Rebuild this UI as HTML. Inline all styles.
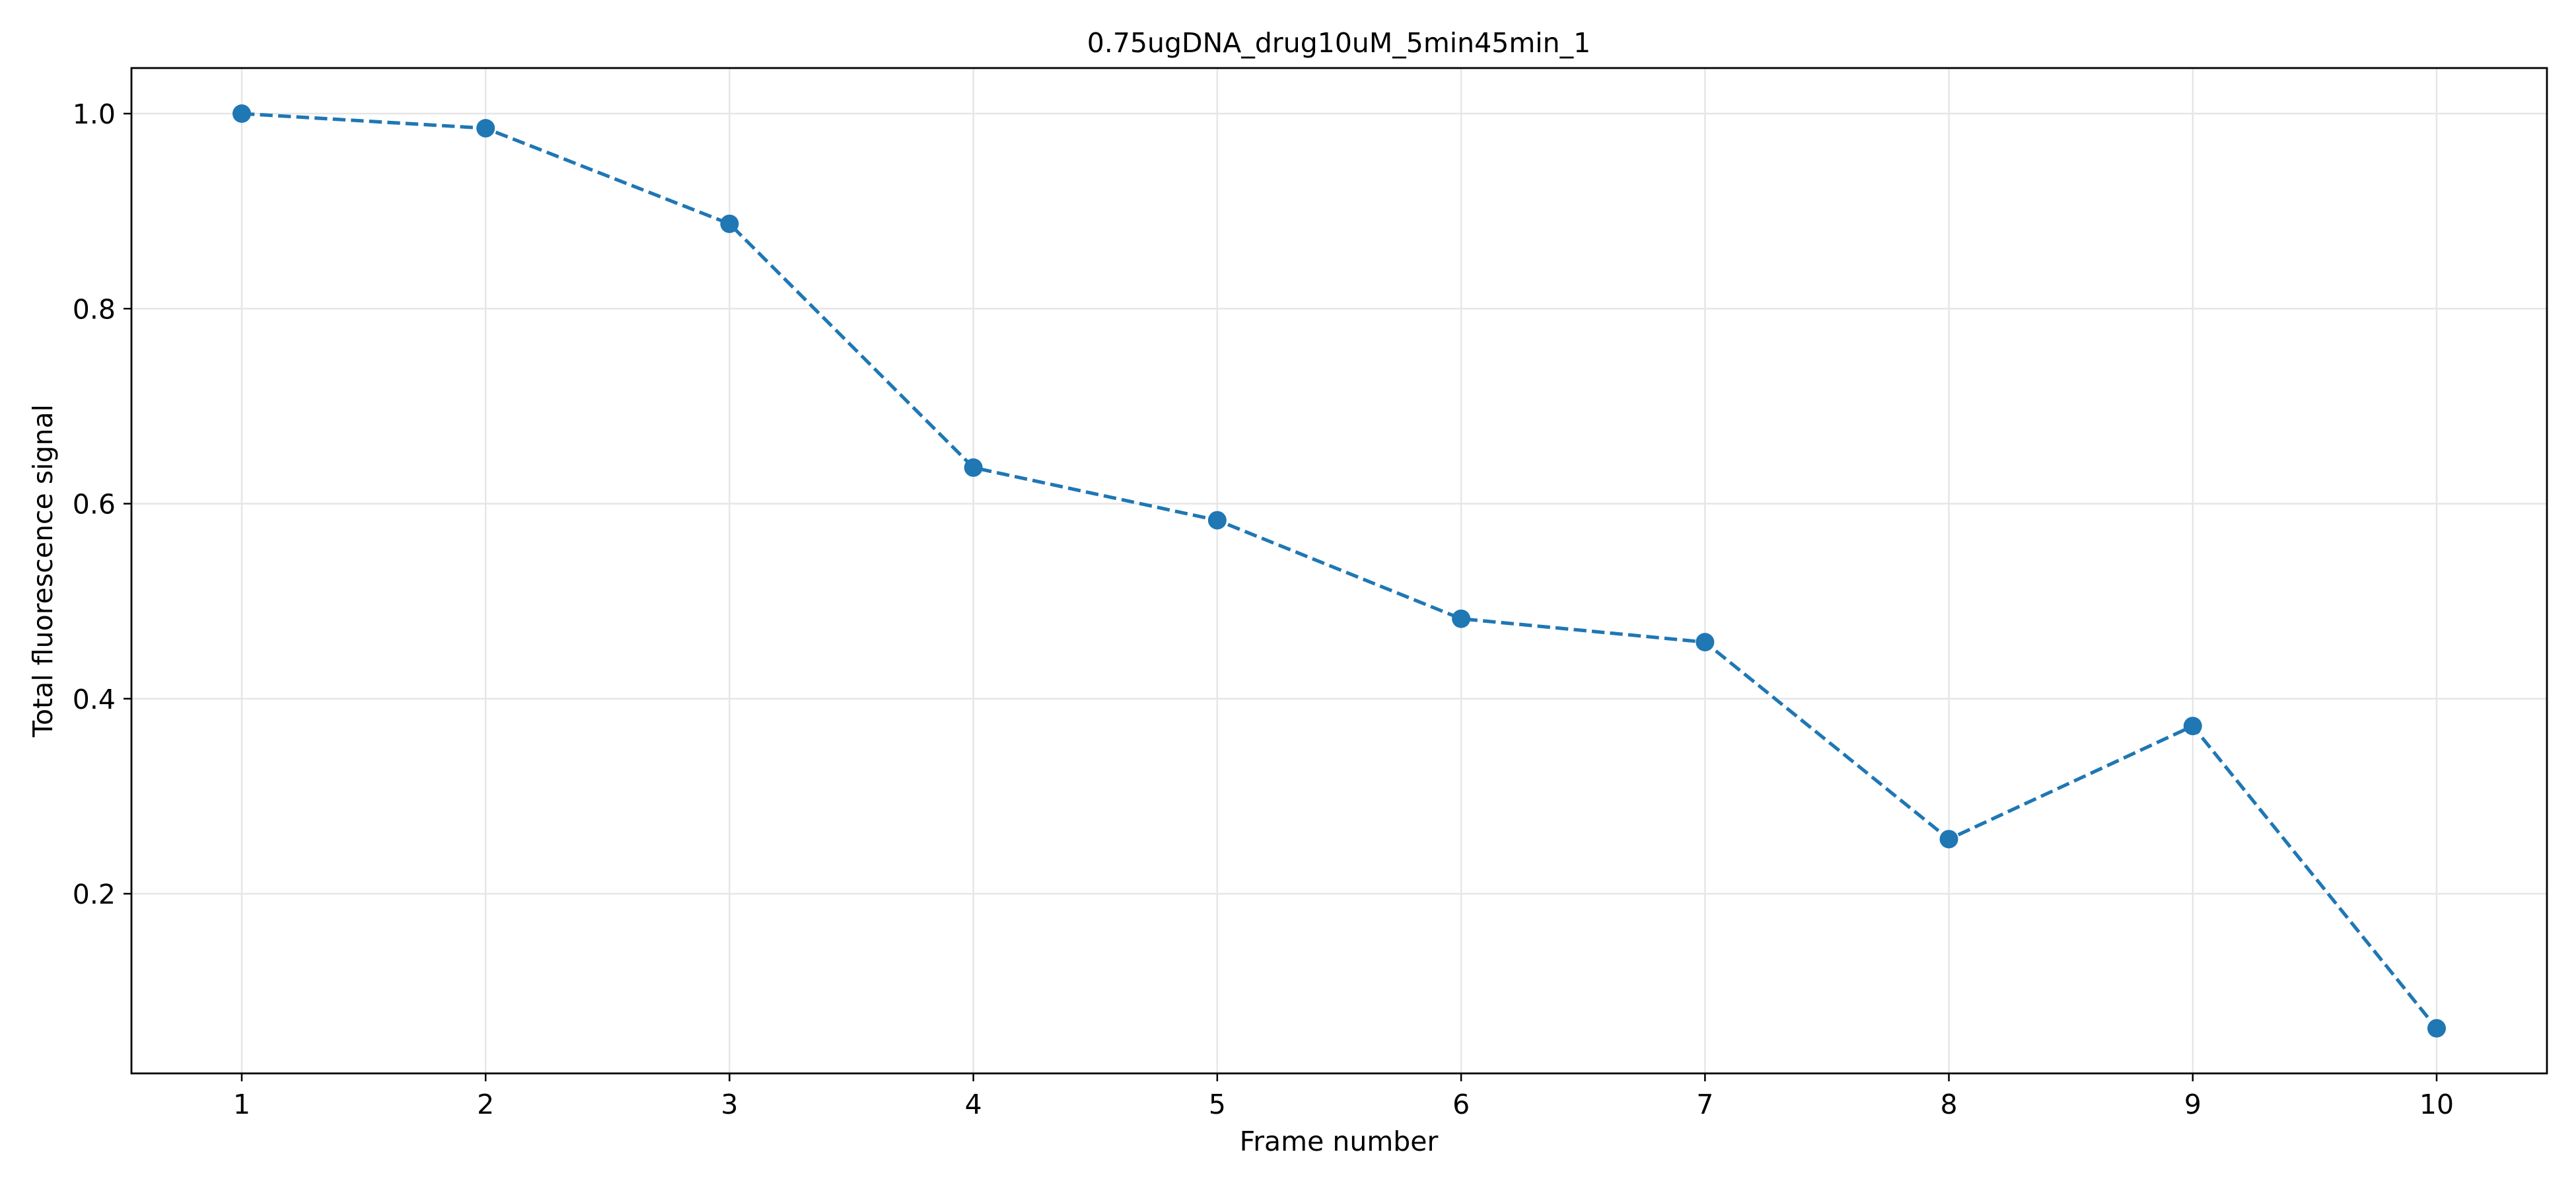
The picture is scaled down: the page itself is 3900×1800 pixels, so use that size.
<!DOCTYPE html>
<html><head><meta charset="utf-8"><style>
html,body{margin:0;padding:0;background:#fff;}
svg{display:block;font-family:"DejaVu Sans","Liberation Sans",sans-serif;}
</style></head><body>
<svg id="chart" width="3900" height="1800" viewBox="0 0 3900 1800" xmlns="http://www.w3.org/2000/svg">
<rect width="3900" height="1800" fill="#fff"/>
<g id="grid"></g>
<g id="ticks"></g>
<g id="series"></g>
<rect x="199" y="103" width="3657" height="1522" fill="none" stroke="#000" stroke-width="2.8"/>
<text x="2027" y="79" text-anchor="middle" font-size="41">0.75ugDNA_drug10uM_5min45min_1</text>
<text x="2027" y="1742" text-anchor="middle" font-size="41">Frame number</text>
<text x="0" y="0" transform="translate(79,864) rotate(-90)" text-anchor="middle" font-size="41">Total fluorescence signal</text>
</svg>
<script>
const frames = [1,2,3,4,5,6,7,8,9,10];
const signal = [1.0,0.985,0.887,0.637,0.583,0.482,0.458,0.256,0.372,0.062];
const xTicks = [1,2,3,4,5,6,7,8,9,10];
const yTicks = [0.2,0.4,0.6,0.8,1.0];
const yTickLabels = ["0.2","0.4","0.6","0.8","1.0"];

const L=199,R=3856,T=103,B=1625;
function xs(v){return 366+(v-1)*(3689-366)/9;}
function ys(v){return 172+(1.0-v)*(1353-172)/0.8;}
const NS="http://www.w3.org/2000/svg";
function mk(tag,attrs,parent){const e=document.createElementNS(NS,tag);for(const k in attrs)e.setAttribute(k,attrs[k]);parent.appendChild(e);return e;}
const grid=document.getElementById('grid'),ticks=document.getElementById('ticks'),series=document.getElementById('series');
xTicks.forEach(v=>{
  const x=xs(v);
  const g=mk('line',{x1:x,x2:x,y1:T,y2:B,stroke:'#e6e6e6','stroke-width':2.5},grid);
  
  
  const t=mk('line',{x1:x,x2:x,y1:B,y2:B+12,stroke:'#000','stroke-width':2.5},ticks);
  
  
  const l=mk('text',{x:x,y:B+61,'text-anchor':'middle','font-size':41},ticks);
  l.textContent=String(v);
  
  
});
yTicks.forEach((v,i)=>{
  const y=ys(v);
  const g=mk('line',{x1:L,x2:R,y1:y,y2:y,stroke:'#e6e6e6','stroke-width':2.5},grid);
  
  
  const t=mk('line',{x1:L-12,x2:L,y1:y,y2:y,stroke:'#000','stroke-width':2.5},ticks);
  
  
  const l=mk('text',{x:L-24,y:y+15,'text-anchor':'end','font-size':41},ticks);
  l.textContent=yTickLabels[i];
  
  
});
const pts=frames.map((f,i)=>xs(f)+','+ys(signal[i])).join(' ');
const pl=mk('polyline',{points:pts,fill:'none',stroke:'#1f77b4','stroke-width':5.2,'stroke-dasharray':'19.3 8.3'},series);


frames.forEach((f,i)=>{
  const c=mk('circle',{cx:xs(f),cy:ys(signal[i]),r:14,fill:'#1f77b4'},series);
  
  
});
</script>
</body></html>
